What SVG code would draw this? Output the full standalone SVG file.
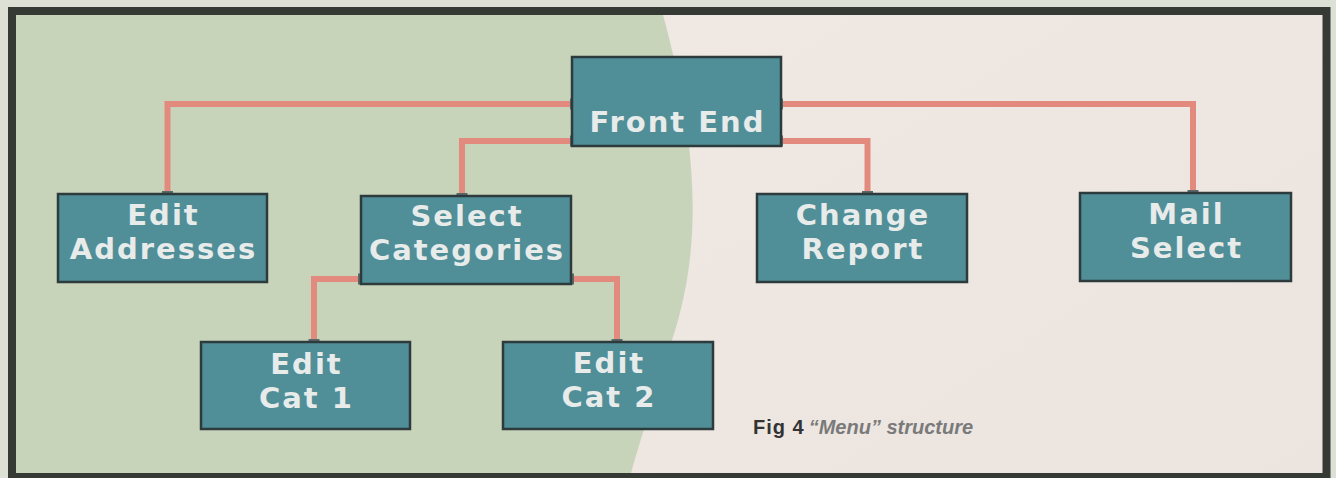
<svg xmlns="http://www.w3.org/2000/svg" width="1336" height="478" viewBox="0 0 1336 478">
<defs>
<style>
.box{fill:#508e98;stroke:#2e3b3c;stroke-width:2.5}
.lbl{font-family:"DejaVu Sans","Liberation Sans",Arial,sans-serif;font-weight:bold;font-size:29px;letter-spacing:2px;fill:#e7ebea;text-anchor:middle}
.con{fill:none;stroke:#e38a7f;stroke-width:6;stroke-linejoin:miter}
.hdl{fill:#5b6868}
.cap{font-family:"Liberation Sans",Arial,sans-serif;font-weight:bold;font-size:20px}
</style>
<linearGradient id="lt" x1="0" y1="0" x2="1" y2="1">
<stop offset="0" stop-color="#efe8e3"/>
<stop offset="1" stop-color="#ebe4df"/>
</linearGradient>
</defs>
<rect x="0" y="0" width="1336" height="478" fill="#dde0d4"/>
<rect x="12" y="11" width="1314" height="466" fill="#c8d4ba"/>
<path d="M 662 11 C 700 150, 702 250, 672 340 C 655 395, 640 440, 630 477 L 1326 477 L 1326 11 Z" fill="url(#lt)"/>
<rect x="12" y="11" width="1314.5" height="466" fill="none" stroke="#353a34" stroke-width="8"/>

<g id="connectors">
<path class="con" d="M 572 104 H 167.5 V 194"/>
<path class="con" d="M 572 141 H 462 V 196"/>
<path class="con" d="M 781 104 H 1193 V 193"/>
<path class="con" d="M 781 141 H 867.5 V 194"/>
<path class="con" d="M 361 279 H 314 V 342"/>
<path class="con" d="M 571 279 H 617 V 342"/>
<rect class="hdl" x="162" y="191" width="11" height="5"/>
<rect class="hdl" x="456.5" y="193" width="11" height="5"/>
<rect class="hdl" x="1187.5" y="190" width="11" height="5"/>
<rect class="hdl" x="862" y="191" width="11" height="5"/>
<rect class="hdl" x="308.5" y="339" width="11" height="5"/>
<rect class="hdl" x="611.5" y="339" width="11" height="5"/>
<rect class="hdl" x="570" y="98.5" width="5" height="11"/>
<rect class="hdl" x="570" y="135.5" width="5" height="11"/>
<rect class="hdl" x="778" y="98.5" width="5" height="11"/>
<rect class="hdl" x="778" y="135.5" width="5" height="11"/>
<rect class="hdl" x="358" y="273.5" width="5" height="11"/>
<rect class="hdl" x="569" y="273.5" width="5" height="11"/>
</g>

<g id="front-end">
<rect class="box" x="572" y="57" width="209" height="89"/>
<text class="lbl" x="677.5" y="132">Front End</text>
</g>
<g id="edit-addresses">
<rect class="box" x="58" y="194" width="209" height="88"/>
<text class="lbl" x="163.5" y="225">Edit</text>
<text class="lbl" x="163.5" y="259">Addresses</text>
</g>
<g id="select-categories">
<rect class="box" x="361" y="196" width="210" height="88"/>
<text class="lbl" x="467" y="226">Select</text>
<text class="lbl" x="467" y="260">Categories</text>
</g>
<g id="change-report">
<rect class="box" x="757" y="194" width="210" height="88"/>
<text class="lbl" x="863" y="225">Change</text>
<text class="lbl" x="863" y="259">Report</text>
</g>
<g id="mail-select">
<rect class="box" x="1080" y="193" width="211" height="88"/>
<text class="lbl" x="1186.5" y="224">Mail</text>
<text class="lbl" x="1186.5" y="258">Select</text>
</g>
<g id="edit-cat-1">
<rect class="box" x="201" y="342" width="209" height="87"/>
<text class="lbl" x="306.5" y="374">Edit</text>
<text class="lbl" x="306.5" y="408">Cat 1</text>
</g>
<g id="edit-cat-2">
<rect class="box" x="503" y="342" width="210" height="87"/>
<text class="lbl" x="609" y="373">Edit</text>
<text class="lbl" x="609" y="407">Cat 2</text>
</g>

<g id="caption">
<text class="cap" x="753" y="434"><tspan fill="#333333" letter-spacing="1">Fig 4</tspan><tspan fill="#7a7a7a" font-style="italic" dx="4">“Menu” structure</tspan></text>
</g>
</svg>
